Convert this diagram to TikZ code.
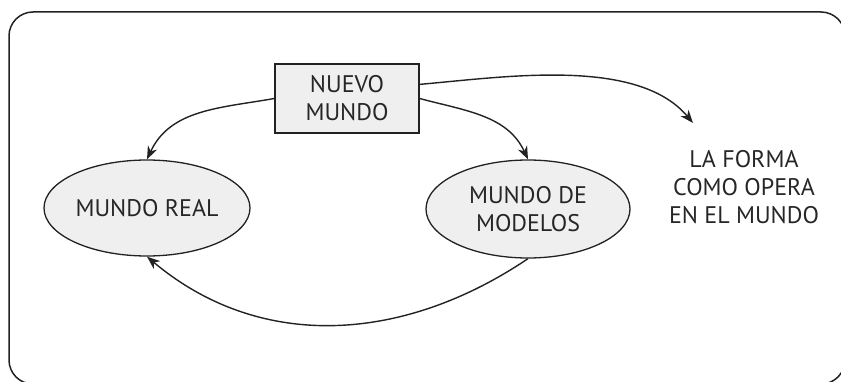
\documentclass[tikz,border=0pt]{standalone}
\usepackage{fontspec}
\setmainfont{PT Sans}
\usepackage{tikz}
\usetikzlibrary{arrows.meta,
shapes.geometric
}
\tikzset{>={Stealth[length=13pt,width=10pt,inset=4pt]}}
\definecolor{trazo}{HTML}{222222}
\definecolor{relleno}{HTML}{EFEFEF}
\tikzset{
  texto/.style={font=\fontsize{24}{28}\selectfont, text=black!85, align=center},
  mundo/.style={texto, ellipse, draw=trazo, fill=relleno, line width=1.3pt,
    minimum width=206pt, minimum height=96pt, inner sep=0pt},
  caja/.style={texto, rectangle, draw=trazo, fill=relleno, line width=1.3pt,
    minimum width=144pt, minimum height=69pt},
  flecha/.style={->, trazo, line width=1.4pt}
}

\begin{document}
\begin{tikzpicture}[x=1pt, y=1pt]
                \useasboundingbox (0,0) rectangle (841,381);
                \draw[trazo, line width=1.5pt, rounded corners=24pt] (9,-3) rectangle (845,369); % marco

                \node[caja] (nuevo) at (347,282.5) {NUEVO\\MUNDO};
                \node[mundo] (real) at (147,173) {MUNDO REAL};
                \node[mundo, minimum width=204pt, minimum height=98pt] (modelos) at (528,172) {MUNDO DE\\MODELOS};
                \node[texto] (forma) at (744,194) {LA FORMA\\COMO OPERA\\EN EL MUNDO};
                \coordinate (formapunta) at (693,258);

                \draw[flecha] (nuevo.west) to [out=190, in=65] (real.north);
                \draw[flecha] (nuevo.east) to [out=-15, in=115] (modelos.north);
                \draw[flecha] (nuevo.11) to [out=5, in=130, looseness=0.8] (formapunta);
                \draw[flecha] (modelos.south) to [out=-146, in=-40] (real.south);
            \end{tikzpicture}
\end{document}
